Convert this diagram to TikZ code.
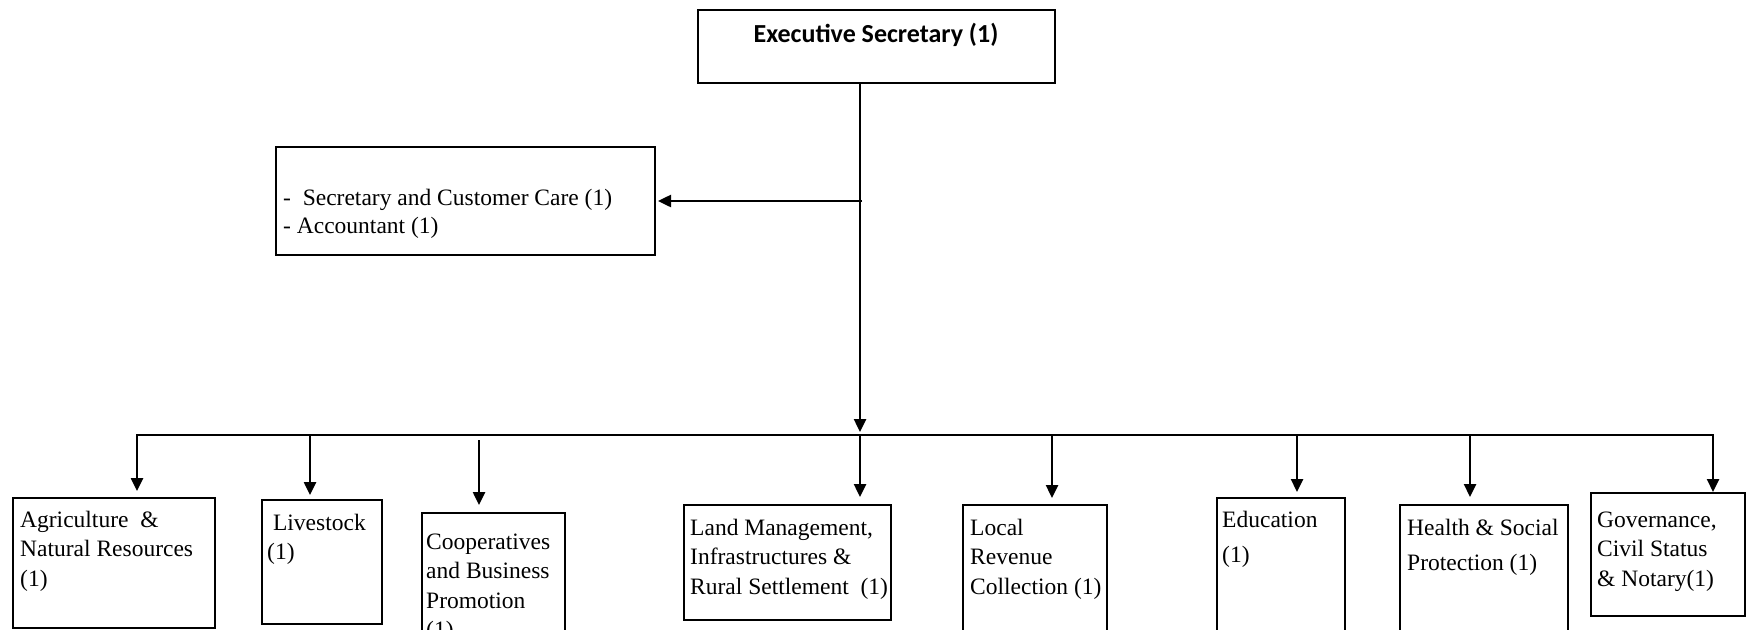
\documentclass[tikz,border=0pt]{standalone}
\usepackage{fontspec}
\setmainfont{Liberation Serif}
\newfontfamily\titlefont{Carlito}
\usetikzlibrary{arrows.meta}
% left-aligned lines whose first baseline is the node's base
\newcommand\boxlines[1]{\begin{tabular}[t]{@{}l@{}}#1\end{tabular}}
\begin{document}
\begin{tikzpicture}[x=1pt,y=-1pt,
  unit/.style={draw=black, line width=2.8pt, inner sep=0pt, outer sep=0pt, rectangle},
  conn/.style={draw=black, line width=2.5pt},
  tip/.style={-{Triangle[width=12pt,length=13pt]}},
  txt/.style={inner sep=0pt, anchor=base west, font=\fontsize{23.5}{29.5}\selectfont},
  loose/.style={font=\fontsize{23.5}{35}\selectfont},
  tight/.style={font=\fontsize{23.5}{28}\selectfont}]

\useasboundingbox (0,0) rectangle (1747,629);
\fill[white] (0,0) rectangle (1747,629);
\clip (0,0) rectangle (1747,629);

% ---- boxes ----
\node[unit, minimum width=357pt, minimum height=73pt]  (exec)   at (876.5,46.5) {};
\node[unit, minimum width=379pt, minimum height=108pt] (side)   at (465.5,201) {};
\node[unit, minimum width=202pt, minimum height=130pt] (agri)   at (114,563) {};
\node[unit, minimum width=120pt, minimum height=124pt] (live)   at (322,562) {};
\node[unit, minimum width=143pt, minimum height=147pt] (coop)   at (493.5,586.5) {};
\node[unit, minimum width=207pt, minimum height=115pt] (land)   at (787.5,562.5) {};
\node[unit, minimum width=144pt, minimum height=155pt] (local)  at (1035,582.5) {};
\node[unit, minimum width=128pt, minimum height=162pt] (edu)    at (1281,579) {};
\node[unit, minimum width=168pt, minimum height=155pt] (health) at (1484,582.5) {};
\node[unit, minimum width=154pt, minimum height=123pt] (gov)    at (1668,554.5) {};

% ---- texts ----
\node[inner sep=0pt, anchor=base, font=\titlefont\bfseries\fontsize{26}{30}\selectfont]
  (exec-t) at (876,42) {Executive Secretary (1)};
\node[txt, tight] (side-t) at (283,205)
  {\boxlines{-\ \ Secretary and Customer Care (1)\\- Accountant (1)}};
\node[txt] (agri-t)  at (20,527)   {\boxlines{Agriculture\ \ \&\\Natural Resources\\(1)}};
\node[txt] (live-t)  at (267,530)  {\boxlines{\ Livestock\\(1)}};
\node[txt] (coop-t)  at (426,549)  {\boxlines{Cooperatives\\and Business\\Promotion\\(1)}};
\node[txt] (land-t)  at (690,535)  {\boxlines{Land Management,\\Infrastructures \&\\Rural Settlement\ \ (1)}};
\node[txt] (local-t) at (970,535)  {\boxlines{Local\\Revenue\\Collection (1)}};
\node[txt, loose] (edu-t)    at (1222,527) {\boxlines{Education\\(1)}};
\node[txt, loose] (health-t) at (1407,535) {\boxlines{Health \& Social\\Protection (1)}};
\node[txt] (gov-t)   at (1597,527) {\boxlines{Governance,\\Civil Status\\\& Notary(1)}};

% ---- connectors ----
\coordinate (trunk) at (860,435);
\coordinate (b1) at (137,435);
\coordinate (b2) at (310,435);
\coordinate (b3) at (479,435);
\coordinate (b4) at (860,435);
\coordinate (b5) at (1052,435);
\coordinate (b6) at (1297,435);
\coordinate (b7) at (1470,435);
\coordinate (b8) at (1713,435);

\draw[conn, tip, shorten >=3pt] (exec.south -| trunk) -- (trunk);
\draw[conn, tip, shorten >=3pt] ([xshift=2pt]trunk |- side.east) -- (side.east);

% bus with the two outer drops
\draw[conn, {Triangle[width=12pt,length=13pt]}-{Triangle[width=12pt,length=13pt]},
      shorten <=7pt, shorten >=1pt]
  (b1 |- agri.north) -- (b1) -- (b8) -- (b8 |- gov.north);

\draw[conn, tip, shorten >=5pt] (b2) -- (b2 |- live.north);
\draw[conn, tip, shorten >=8pt] ([yshift=-5pt]b3) -- (b3 |- coop.north);
\draw[conn, tip, shorten >=8pt] (b4) -- (b4 |- land.north);
\draw[conn, tip, shorten >=7pt] (b5) -- (b5 |- local.north);
\draw[conn, tip, shorten >=6pt] (b6) -- (b6 |- edu.north);
\draw[conn, tip, shorten >=8pt] (b7) -- (b7 |- health.north);
\end{tikzpicture}
\end{document}
